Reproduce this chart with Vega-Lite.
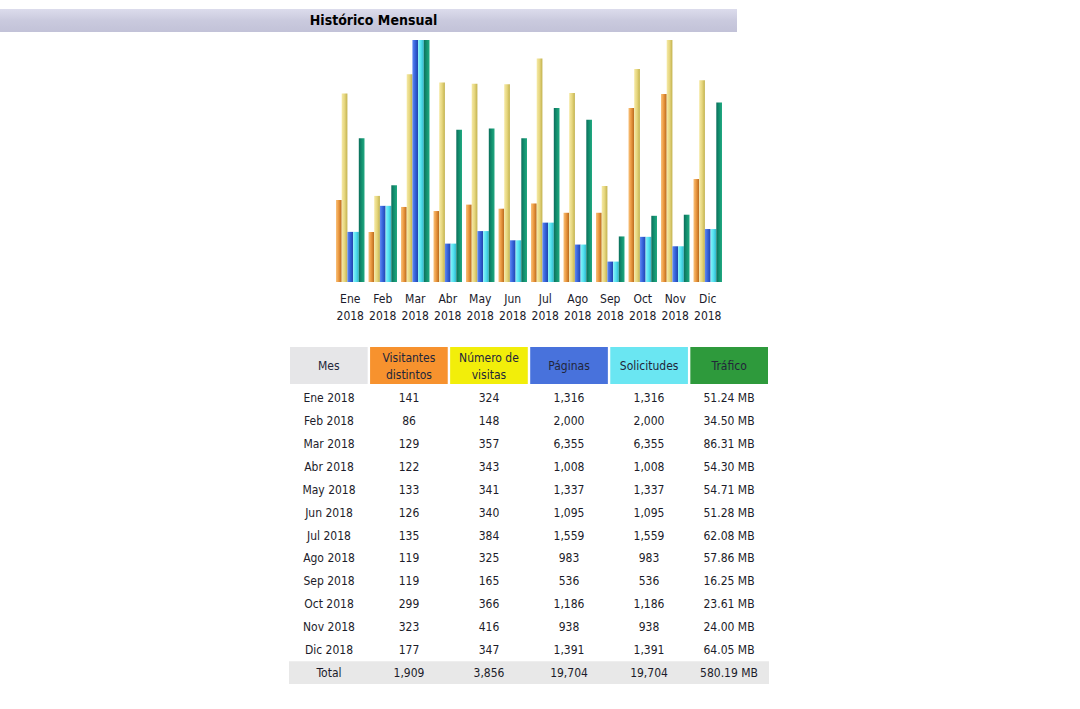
{
  "$schema": "https://vega.github.io/schema/vega-lite/v6.json",
  "background": "white",
  "padding": {"top": 9, "left": 0, "right": 0, "bottom": 0},
  "spacing": 8,
  "config": {"view": {"stroke": null}, "font": "DejaVu Sans Condensed"},
  "datasets": {
    "stats": [
      {"month": "Ene 2018", "visitors": 141, "visits": 324, "pages": 1316, "hits": 1316, "traffic": 51.24},
      {"month": "Feb 2018", "visitors": 86, "visits": 148, "pages": 2000, "hits": 2000, "traffic": 34.50},
      {"month": "Mar 2018", "visitors": 129, "visits": 357, "pages": 6355, "hits": 6355, "traffic": 86.31},
      {"month": "Abr 2018", "visitors": 122, "visits": 343, "pages": 1008, "hits": 1008, "traffic": 54.30},
      {"month": "May 2018", "visitors": 133, "visits": 341, "pages": 1337, "hits": 1337, "traffic": 54.71},
      {"month": "Jun 2018", "visitors": 126, "visits": 340, "pages": 1095, "hits": 1095, "traffic": 51.28},
      {"month": "Jul 2018", "visitors": 135, "visits": 384, "pages": 1559, "hits": 1559, "traffic": 62.08},
      {"month": "Ago 2018", "visitors": 119, "visits": 325, "pages": 983, "hits": 983, "traffic": 57.86},
      {"month": "Sep 2018", "visitors": 119, "visits": 165, "pages": 536, "hits": 536, "traffic": 16.25},
      {"month": "Oct 2018", "visitors": 299, "visits": 366, "pages": 1186, "hits": 1186, "traffic": 23.61},
      {"month": "Nov 2018", "visitors": 323, "visits": 416, "pages": 938, "hits": 938, "traffic": 24.00},
      {"month": "Dic 2018", "visitors": 177, "visits": 347, "pages": 1391, "hits": 1391, "traffic": 64.05},
      {"month": "Total", "visitors": 1909, "visits": 3856, "pages": 19704, "hits": 19704, "traffic": 580.19}
    ],
    "cols": [
      {"col": "Mes", "label": "Mes"},
      {"col": "Visitantes", "label": "Visitantes\ndistintos"},
      {"col": "Numero", "label": "Número de\nvisitas"},
      {"col": "Paginas", "label": "Páginas"},
      {"col": "Solicitudes", "label": "Solicitudes"},
      {"col": "Trafico", "label": "Tráfico"}
    ]
  },
  "vconcat": [
    {
      "width": 737,
      "height": 23,
      "data": {"values": [{"t": "Histórico Mensual"}]},
      "layer": [
        {
          "mark": {"type": "rect", "color": {"gradient": "linear", "x1": 0, "y1": 0, "x2": 0, "y2": 1, "stops": [{"offset": 0, "color": "#dcdcec"}, {"offset": 0.5, "color": "#cacade"}, {"offset": 1, "color": "#c2c2d8"}]}},
          "encoding": {}
        },
        {
          "mark": {"type": "text", "fontWeight": "bold", "fontSize": 14, "color": "#000000", "dx": 5, "font": "DejaVu Sans Condensed"},
          "encoding": {"text": {"field": "t"}}
        }
      ]
    },
    {
      "spacing": 26,
      "vconcat": [
        {
          "width": 1058,
          "height": 242,
          "data": {"name": "stats"},
          "transform": [{"filter": "datum.month != 'Total'"}],
          "encoding": {
            "x": {
              "field": "month", "type": "nominal", "sort": null,
              "scale": {"range": [336, 722], "paddingInner": 0.123, "paddingOuter": 0},
              "axis": {"title": null, "domain": false, "ticks": false, "labelAngle": 0, "labelPadding": 11, "labelFontSize": 12, "labelFont": "DejaVu Sans Condensed", "labelColor": "#1a1a2a", "labelLineHeight": 17, "labelOverlap": false, "labelExpr": "split(datum.label, ' ')"}
            }
          },
          "layer": [
            {
              "layer": [
                {
                  "mark": {"type": "bar", "color": {"gradient": "linear", "x1": 0, "y1": 0, "x2": 1, "y2": 0, "stops": [{"offset": 0, "color": "#f8c27c"}, {"offset": 0.45, "color": "#ec9a42"}, {"offset": 1, "color": "#b8681c"}]}},
                  "encoding": {
                    "xOffset": {"datum": "visitors", "scale": {"domain": ["visitors", "visits", "pages", "hits", "traffic"], "paddingInner": 0, "paddingOuter": 0}},
                    "y": {"field": "visitors", "type": "quantitative", "scale": {"nice": false, "zero": true}, "axis": null}
                  }
                },
                {
                  "mark": {"type": "bar", "color": {"gradient": "linear", "x1": 0, "y1": 0, "x2": 1, "y2": 0, "stops": [{"offset": 0, "color": "#f6eaa6"}, {"offset": 0.5, "color": "#e6d67e"}, {"offset": 1, "color": "#c2b24e"}]}},
                  "encoding": {
                    "xOffset": {"datum": "visits", "scale": {"domain": ["visitors", "visits", "pages", "hits", "traffic"], "paddingInner": 0, "paddingOuter": 0}},
                    "y": {"field": "visits", "type": "quantitative", "scale": {"nice": false, "zero": true}, "axis": null}
                  }
                }
              ]
            },
            {
              "layer": [
                {
                  "mark": {"type": "bar", "color": {"gradient": "linear", "x1": 0, "y1": 0, "x2": 1, "y2": 0, "stops": [{"offset": 0, "color": "#6088f2"}, {"offset": 0.5, "color": "#3462da"}, {"offset": 1, "color": "#2242aa"}]}},
                  "encoding": {
                    "xOffset": {"datum": "pages", "scale": {"domain": ["visitors", "visits", "pages", "hits", "traffic"], "paddingInner": 0, "paddingOuter": 0}},
                    "y": {"field": "pages", "type": "quantitative", "scale": {"nice": false, "zero": true}, "axis": null}
                  }
                },
                {
                  "mark": {"type": "bar", "color": {"gradient": "linear", "x1": 0, "y1": 0, "x2": 1, "y2": 0, "stops": [{"offset": 0, "color": "#8af2fa"}, {"offset": 0.5, "color": "#54e2f0"}, {"offset": 1, "color": "#30b6cc"}]}},
                  "encoding": {
                    "xOffset": {"datum": "hits", "scale": {"domain": ["visitors", "visits", "pages", "hits", "traffic"], "paddingInner": 0, "paddingOuter": 0}},
                    "y": {"field": "hits", "type": "quantitative", "scale": {"nice": false, "zero": true}, "axis": null}
                  }
                }
              ]
            },
            {
              "mark": {"type": "bar", "color": {"gradient": "linear", "x1": 0, "y1": 0, "x2": 1, "y2": 0, "stops": [{"offset": 0, "color": "#0c6e5c"}, {"offset": 0.5, "color": "#12906e"}, {"offset": 1, "color": "#22aa82"}]}},
              "encoding": {
                "xOffset": {"datum": "traffic", "scale": {"domain": ["visitors", "visits", "pages", "hits", "traffic"], "paddingInner": 0, "paddingOuter": 0}},
                "y": {"field": "traffic", "type": "quantitative", "scale": {"nice": false, "zero": true}, "axis": null}
              }
            }
          ],
          "resolve": {"scale": {"y": "independent"}}
        },
        {
          "spacing": 3,
          "vconcat": [
            {
              "width": 1058,
              "height": 37,
              "data": {"name": "cols"},
              "encoding": {
                "x": {"field": "col", "type": "nominal", "scale": {"domain": ["Mes", "Visitantes", "Numero", "Paginas", "Solicitudes", "Trafico"], "range": [290, 768], "paddingInner": 0.03, "paddingOuter": 0}, "axis": null}
              },
              "layer": [
                {
                  "mark": {"type": "rect"},
                  "encoding": {
                    "color": {"field": "col", "type": "nominal", "legend": null, "scale": {"domain": ["Mes", "Visitantes", "Numero", "Paginas", "Solicitudes", "Trafico"], "range": ["#e6e6e8", "#f7922e", "#f2ee0a", "#4872dc", "#6ae6f2", "#2e9a3c"]}}
                  }
                },
                {
                  "transform": [{"filter": {"field": "col", "oneOf": ["Mes", "Paginas", "Solicitudes", "Trafico"]}}],
                  "mark": {"type": "text", "fontSize": 12, "color": "#22263a", "font": "DejaVu Sans Condensed"},
                  "encoding": {"text": {"field": "label"}}
                },
                {
                  "transform": [{"filter": {"field": "col", "oneOf": ["Visitantes", "Numero"]}}],
                  "mark": {"type": "text", "fontSize": 12, "lineBreak": "\n", "lineHeight": 17, "dy": -8, "color": "#22263a", "font": "DejaVu Sans Condensed"},
                  "encoding": {"text": {"field": "label"}}
                }
              ]
            },
            {
              "width": 1058,
              "height": 297,
              "layer": [
                {
                  "data": {"name": "cols"},
                  "mark": {"type": "rect", "color": "#e8e8e8"},
                  "encoding": {
                    "x": {"field": "col", "type": "nominal", "scale": {"domain": ["Mes", "Visitantes", "Numero", "Paginas", "Solicitudes", "Trafico"], "range": [289, 769], "paddingInner": 0, "paddingOuter": 0}, "axis": null},
                    "y": {"datum": "Total", "type": "nominal", "scale": {"domain": ["Ene 2018", "Feb 2018", "Mar 2018", "Abr 2018", "May 2018", "Jun 2018", "Jul 2018", "Ago 2018", "Sep 2018", "Oct 2018", "Nov 2018", "Dic 2018", "Total"], "paddingInner": 0, "paddingOuter": 0}, "axis": null}
                  }
                },
                {
                  "data": {"name": "stats"},
                  "transform": [{"calculate": "format(datum.traffic, '.2f') + ' MB'", "as": "trafficLabel"}],
                  "encoding": {
                    "y": {"field": "month", "type": "nominal", "scale": {"domain": ["Ene 2018", "Feb 2018", "Mar 2018", "Abr 2018", "May 2018", "Jun 2018", "Jul 2018", "Ago 2018", "Sep 2018", "Oct 2018", "Nov 2018", "Dic 2018", "Total"], "paddingInner": 0, "paddingOuter": 0}, "axis": null}
                  },
                  "layer": [
                    {"mark": {"type": "text", "fontSize": 12, "color": "#1c1c2a", "font": "DejaVu Sans Condensed"}, "encoding": {"x": {"datum": "Mes", "type": "nominal"}, "text": {"field": "month"}}},
                    {"mark": {"type": "text", "fontSize": 12, "color": "#1c1c2a", "font": "DejaVu Sans Condensed"}, "encoding": {"x": {"datum": "Visitantes", "type": "nominal"}, "text": {"field": "visitors", "format": ","}}},
                    {"mark": {"type": "text", "fontSize": 12, "color": "#1c1c2a", "font": "DejaVu Sans Condensed"}, "encoding": {"x": {"datum": "Numero", "type": "nominal"}, "text": {"field": "visits", "format": ","}}},
                    {"mark": {"type": "text", "fontSize": 12, "color": "#1c1c2a", "font": "DejaVu Sans Condensed"}, "encoding": {"x": {"datum": "Paginas", "type": "nominal"}, "text": {"field": "pages", "format": ","}}},
                    {"mark": {"type": "text", "fontSize": 12, "color": "#1c1c2a", "font": "DejaVu Sans Condensed"}, "encoding": {"x": {"datum": "Solicitudes", "type": "nominal"}, "text": {"field": "hits", "format": ","}}},
                    {"mark": {"type": "text", "fontSize": 12, "color": "#1c1c2a", "font": "DejaVu Sans Condensed"}, "encoding": {"x": {"datum": "Trafico", "type": "nominal"}, "text": {"field": "trafficLabel"}}}
                  ]
                }
              ]
            }
          ]
        }
      ]
    }
  ]
}
